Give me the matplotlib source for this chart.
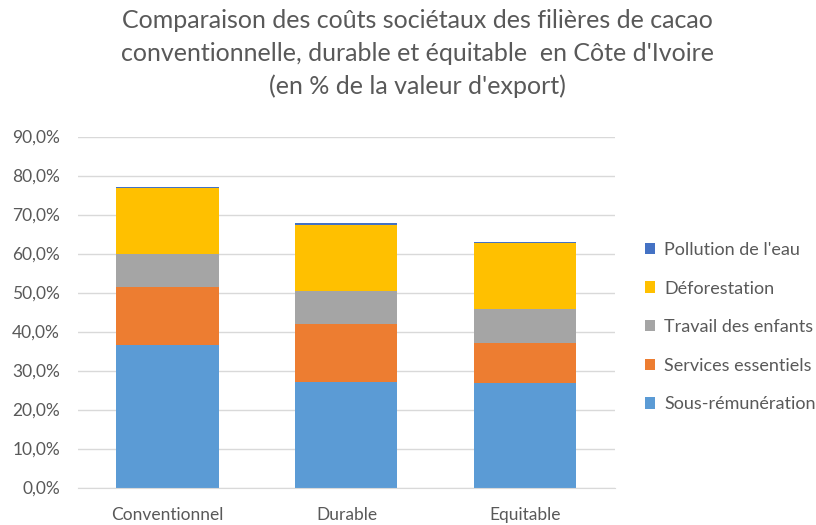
import matplotlib

matplotlib.use("Agg")
import matplotlib.pyplot as plt
from matplotlib.ticker import FuncFormatter

# values (% of export value)
categories = ["Conventionnel", "Durable", "Equitable"]
sous_remuneration = [36.6, 27.0, 26.9]
services_essentiels = [14.9, 14.8, 10.2]
travail_enfants = [8.5, 8.5, 8.7]
deforestation = [16.7, 17.1, 16.8]
pollution_eau = [0.4, 0.4, 0.4]

series = [
    ("Sous-rémunération", sous_remuneration, "#5B9BD5"),
    ("Services essentiels", services_essentiels, "#ED7D31"),
    ("Travail des enfants", travail_enfants, "#A5A5A5"),
    ("Déforestation", deforestation, "#FFC000"),
    ("Pollution de l'eau", pollution_eau, "#4472C4"),
]

plt.rcParams["font.family"] = ["Lato", "DejaVu Sans"]
text_color = "#595959"

fig = plt.figure(figsize=(8.16, 5.25), dpi=100)
ax = fig.add_axes([0.0956, 0.0714, 0.658, 0.6686])

x = list(range(len(categories)))
bottom = [0.0] * len(categories)
handles = []
for label, values, color in series:
    bars = ax.bar(x, values, width=0.57, bottom=bottom, color=color, label=label, linewidth=0)
    handles.append(bars)
    bottom = [b + v for b, v in zip(bottom, values)]

ax.set_xlim(-0.5, len(categories) - 0.5)
ax.set_ylim(0, 90)
ax.set_yticks(range(0, 91, 10))
ax.yaxis.set_major_formatter(FuncFormatter(lambda v, _: f"{v:.1f}%".replace(".", ",")))
ax.set_xticks(x)
ax.set_xticklabels(categories)

ax.grid(axis="y", color="#D9D9D9", linewidth=1)
ax.set_axisbelow(True)
for side in ["top", "right", "left"]:
    ax.spines[side].set_visible(False)
ax.spines["bottom"].set_color("#D9D9D9")
ax.tick_params(axis="both", length=0, labelsize=12.5, colors=text_color)
ax.tick_params(axis="y", pad=13)
ax.tick_params(axis="x", pad=14)

fig.suptitle(
    "Comparaison des coûts sociétaux des filières de cacao\n"
    "conventionnelle, durable et équitable  en Côte d'Ivoire\n"
    "(en % de la valeur d'export)",
    x=0.512, y=0.982, fontsize=18, color=text_color, linespacing=1.5,
)

fig.legend(
    handles[::-1], [s[0] for s in series][::-1],
    loc="center left", bbox_to_anchor=(0.77, 0.377),
    frameon=False, fontsize=13, labelcolor=text_color,
    handlelength=0.6, handleheight=0.6, handletextpad=0.5, labelspacing=1.25,
)

fig.savefig("out.png", dpi=100)
